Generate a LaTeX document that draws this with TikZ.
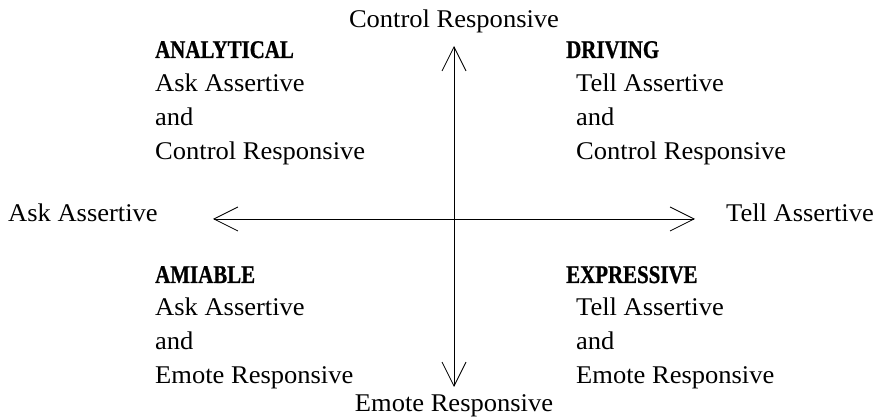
\documentclass[tikz,border=0pt]{standalone}
\usepackage{fontspec}
\setmainfont{Liberation Serif}[FakeStretch=1.04]
\newfontfamily\ttlfont{Liberation Serif}[FakeStretch=0.82, FakeBold=0.8]
\usetikzlibrary{arrows.meta}

\tikzset{
  axis/.style={line width=0.8pt, {Straight Barb[length=24pt,width=24pt]}-{Straight Barb[length=24pt,width=24pt]}},
  lbl/.style={inner sep=0pt},
  blk/.style={inner sep=0pt, align=left, anchor=base west},
  ttl/.style={inner sep=0pt, anchor=base west, font=\fontsize{25.5}{34}\ttlfont\bfseries}
}

\begin{document}
\begin{tikzpicture}[x=1pt, y=1pt, font=\fontsize{25.5}{34}\selectfont]
	\useasboundingbox (0,0) rectangle (878,417);
	% axis ends
	\coordinate (top) at (454,371);
	\coordinate (bot) at (454,30);
	\coordinate (lft) at (213,198);
	\coordinate (rgt) at (695,198);
	\draw[axis] (top) -- (bot);
	\draw[axis] (lft) -- (rgt);
	% axis labels
	\node[lbl, anchor=base] (ctrl) at (454,389) {Control Responsive};
	\node[lbl, anchor=base] (emote) at (454,5) {Emote Responsive};
	\node[lbl, anchor=base west] (ask) at (8,195) {Ask Assertive};
	\node[lbl, anchor=base east] (tell) at (874,195) {Tell Assertive};
	% quadrants
	\node[ttl] (analytical) at (155,359) {ANALYTICAL};
	\node[blk] (analyticalTxt) at (155,257) {Ask Assertive\\and\\Control Responsive};
	\node[ttl] (driving) at (566,359) {DRIVING};
	\node[blk] (drivingTxt) at (576,257) {Tell Assertive\\and\\Control Responsive};
	\node[ttl] (amiable) at (155,134) {AMIABLE};
	\node[blk] (amiableTxt) at (155,33) {Ask Assertive\\and\\Emote Responsive};
	\node[ttl] (expressive) at (566,134) {EXPRESSIVE};
	\node[blk] (expressiveTxt) at (576,33) {Tell Assertive\\and\\Emote Responsive};
\end{tikzpicture}
\end{document}
